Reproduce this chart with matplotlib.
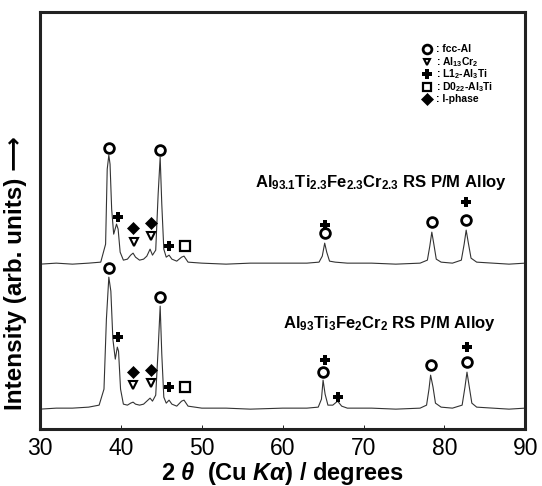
import matplotlib
matplotlib.use('Agg')
import matplotlib.pyplot as plt

plt.rcParams['font.family'] = ['Liberation Sans', 'DejaVu Sans']
plt.rcParams['mathtext.fontset'] = 'custom'
plt.rcParams['mathtext.rm'] = 'Liberation Sans:bold'
plt.rcParams['mathtext.bf'] = 'Liberation Sans:bold'
plt.rcParams['mathtext.it'] = 'Liberation Sans:italic:bold'

# upper pattern: Al93.1Ti2.3Fe2.3Cr2.3 (height above its own baseline)
two_theta_a = [30.0, 32.0, 34.0, 36.0, 37.5, 38.1, 38.3, 38.5, 38.65, 38.85,
               39.1, 39.45, 39.65, 39.9, 40.3, 40.8, 41.2, 41.5, 41.8, 42.3,
               42.8, 43.2, 43.6, 43.9, 44.3, 44.6, 44.85, 45.05, 45.3, 45.6,
               45.95, 46.3, 46.9, 47.5, 47.8, 48.3, 50, 53, 56, 60,
               63, 64.5, 64.9, 65.2, 65.45, 65.8, 66.5, 68, 71, 74,
               77, 77.9, 78.2, 78.45, 78.7, 79.0, 79.6, 81, 82.1, 82.45,
               82.7, 82.95, 83.3, 84.0, 86, 88, 90]
counts_a = [0, 1, 0, 1, 2, 20, 95, 109, 100, 55,
            30, 40, 35, 12, 4, 5, 9, 11, 7, 4,
            5, 8, 15, 9, 14, 70, 107, 60, 15, 7,
            9, 5, 3, 7, 8, 2, 1, 0, 1, 1,
            1, 2, 8, 21, 12, 3, 2, 1, 1, 0,
            1, 4, 18, 32, 20, 5, 2, 1, 4, 20,
            34, 22, 6, 2, 1, 0, 1]

# lower pattern: Al93Ti3Fe2Cr2
two_theta_b = [30.0, 32.0, 34.0, 36.0, 37.3, 37.9, 38.2, 38.5, 38.75, 39.0,
               39.3, 39.55, 39.7, 39.95, 40.3, 40.8, 41.2, 41.5, 41.8, 42.3,
               42.8, 43.2, 43.6, 43.9, 44.3, 44.6, 44.85, 45.05, 45.3, 45.6,
               45.95, 46.3, 46.9, 47.5, 47.8, 48.3, 50, 53, 56, 60,
               63, 64.4, 64.8, 65.0, 65.25, 65.6, 66.2, 66.8, 67.3, 68,
               71, 74, 77, 77.8, 78.1, 78.3, 78.6, 78.9, 79.6, 81,
               82.2, 82.55, 82.8, 83.05, 83.4, 84.0, 86, 88, 90]
counts_b = [0, 1, 1, 2, 4, 20, 90, 132, 118, 70,
            50, 62, 58, 20, 5, 4, 6, 7, 5, 4,
            5, 8, 11, 8, 14, 60, 103, 55, 12, 6,
            9, 5, 3, 8, 9, 3, 1, 1, 0, 1,
            1, 2, 10, 29, 15, 4, 4, 8, 3, 1,
            1, 0, 1, 4, 20, 34, 22, 6, 2, 1,
            4, 22, 37, 24, 6, 2, 1, 0, 1]

base_a = 165
base_b = 20

# phase markers (2theta, intensity on the plot scale)
fcc_al = [(38.55, 281), (44.85, 279), (65.2, 196), (78.5, 207), (82.7, 209),
          (38.55, 161), (44.85, 132), (65.0, 57), (78.3, 64), (82.8, 67)]
al13cr2 = [(41.6, 187), (43.7, 193), (41.5, 44), (43.7, 46)]
l12 = [(39.65, 212), (45.95, 183), (65.2, 204), (82.7, 227),
       (39.65, 92), (45.95, 42), (65.2, 69), (66.9, 32), (82.8, 82)]
d022 = [(47.9, 183), (47.9, 42)]
i_phase = [(41.5, 201), (43.7, 206), (41.5, 57), (43.7, 59)]

legend_labels = [': fcc-Al', r': Al$_{13}$Cr$_{2}$', r': L1$_{2}$-Al$_{3}$Ti',
                 r': D0$_{22}$-Al$_{3}$Ti', ': I-phase']

fig = plt.figure(figsize=(5.42, 4.86), dpi=100)
ax = fig.add_axes([0.074, 0.117, 0.895, 0.858])

ax.plot(two_theta_a, [c + base_a for c in counts_a], color='#333333', lw=0.8)
ax.plot(two_theta_b, [c + base_b for c in counts_b], color='#333333', lw=0.8)

styles = [
    (fcc_al, dict(marker='o', ms=7, mfc='white', mec='black', mew=2.0)),
    (al13cr2, dict(marker='v', ms=5.5, mfc='white', mec='black', mew=1.5)),
    (l12, dict(marker='P', ms=7.5, mfc='black', mec='black', mew=0)),
    (d022, dict(marker='s', ms=6.5, mfc='white', mec='black', mew=1.6)),
    (i_phase, dict(marker='D', ms=6.5, mfc='black', mec='black', mew=0.5)),
]
for pts, st in styles:
    ax.plot([p[0] for p in pts], [p[1] for p in pts], ls='none', zorder=3, **st)

# legend drawn by hand
leg_y = [380, 367.5, 355, 342.5, 330]
for (pts, st), lab, y in zip(styles, legend_labels, leg_y):
    st2 = dict(st)
    st2['ms'] = st['ms'] * 0.9
    ax.plot([77.9], [y], ls='none', **st2)
    ax.text(79.0, y, lab, fontsize=7.5, fontweight='bold', va='center', ha='left')

ax.text(0.443, 0.592,
        r'Al$_{93.1}$Ti$_{2.3}$Fe$_{2.3}$Cr$_{2.3}$ RS P/M Alloy',
        transform=ax.transAxes, fontsize=12, fontweight='bold', va='center')
ax.text(0.501, 0.254, r'Al$_{93}$Ti$_{3}$Fe$_{2}$Cr$_{2}$ RS P/M Alloy',
        transform=ax.transAxes, fontsize=12, fontweight='bold', va='center')

ax.set_xlim(30, 90)
ax.set_ylim(0, 417)
ax.set_xticks([30, 40, 50, 60, 70, 80, 90])
ax.set_yticks([])
ax.tick_params(axis='x', direction='in', length=3, width=0.6, labelsize=16.5, pad=6)
for s in ax.spines.values():
    s.set_linewidth(2.2)
    s.set_color('#222222')

ax.set_xlabel(r'2 $\theta$  (Cu $K\alpha$) / degrees', fontsize=17, fontweight='bold', labelpad=0)
ax.set_ylabel('Intensity (arb. units) \u27f6', fontsize=17.5, fontweight='bold')
ax.yaxis.set_label_coords(-0.027, 0.375)

fig.savefig('out.png', dpi=100)
